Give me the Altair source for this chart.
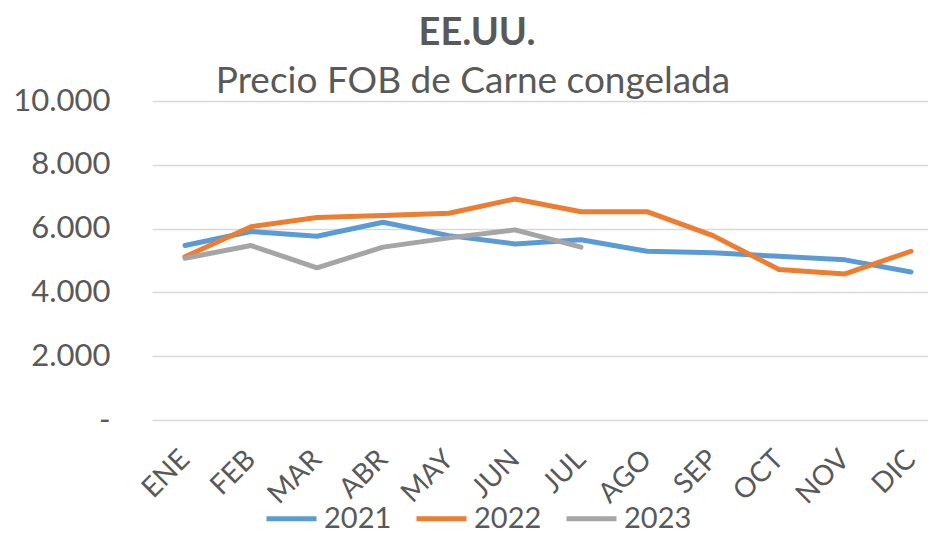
import altair as alt
import pandas as pd

months = ["ENE", "FEB", "MAR", "ABR", "MAY", "JUN", "JUL", "AGO", "SEP", "OCT", "NOV", "DIC"]
years = ["2021", "2022", "2023"]
v2021 = [5470, 5910, 5760, 6200, 5780, 5520, 5650, 5290, 5240, 5130, 5020, 4640]
v2022 = [5120, 6060, 6350, 6410, 6480, 6930, 6530, 6530, 5780, 4720, 4580, 5290]
v2023 = [5070, 5470, 4770, 5420, 5710, 5960, 5420]
colors = ["#5B9BD5", "#ED7D31", "#A5A5A5"]
title_text = "EE.UU."
subtitle_text = "Precio FOB de Carne congelada"

rows = []
for yr, vals in zip(years, [v2021, v2022, v2023]):
    for m, v in zip(months, vals):
        rows.append({"mes": m, "anio": yr, "valor": v})
df = pd.DataFrame(rows)

FONT = "Lato"
GREY = "#595959"

lines = alt.Chart(df).mark_line(strokeWidth=5, strokeCap="round", strokeJoin="round").encode(
    x=alt.X("mes:N", sort=months, title=None,
            scale=alt.Scale(type="point", padding=0.3788, align=0.66),
            axis=alt.Axis(labelAngle=-45, labelAlign="right", labelBaseline="middle",
                          labelPadding=35, tickSize=0, domain=False, grid=False,
                          labelFontSize=28, labelColor=GREY, labelFont=FONT)),
    y=alt.Y("valor:Q", title=None,
            scale=alt.Scale(domain=[0, 10000], nice=False),
            axis=alt.Axis(values=[0, 2000, 4000, 6000, 8000, 10000],
                          labelExpr="datum.value == 0 ? '-\u00a0\u00a0\u00a0' : replace(format(datum.value, ','), ',', '.')",
                          tickSize=0, domain=False, labelPadding=42,
                          gridColor="#D9D9D9", gridWidth=1.5,
                          labelFontSize=31, labelColor=GREY, labelFont=FONT)),
    color=alt.Color("anio:N", scale=alt.Scale(domain=years, range=colors),
                    legend=alt.Legend(orient="none", legendX=112, legendY=390,
                                      direction="horizontal", title=None,
                                      symbolType="stroke", symbolSize=2500,
                                      symbolStrokeWidth=5, labelFontSize=29,
                                      labelColor=GREY, labelFont=FONT,
                                      labelOffset=5, columnPadding=14)),
)

title = alt.Chart(pd.DataFrame({"t": [title_text]})).mark_text(
    font=FONT, fontSize=38, fontWeight="bold", color=GREY, align="center", baseline="alphabetic"
).encode(text="t:N", x=alt.value(325), y=alt.value(-56))

subtitle = alt.Chart(pd.DataFrame({"t": [subtitle_text]})).mark_text(
    font=FONT, fontSize=37, color=GREY, align="center", baseline="alphabetic"
).encode(text="t:N", x=alt.value(321), y=alt.value(-8))

chart = alt.layer(lines, title, subtitle).properties(
    width=776, height=319,
    autosize=alt.AutoSizeParams(type="none"),
    padding={"left": 144, "top": 93, "right": 0, "bottom": 116},
).configure_view(stroke=None)

chart.save("out.html", embed_options={"renderer": "svg", "actions": False})
